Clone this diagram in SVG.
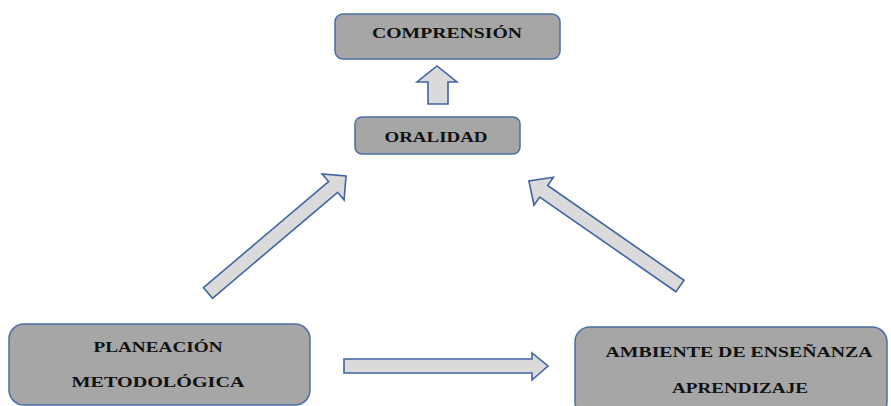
<svg xmlns="http://www.w3.org/2000/svg" width="891" height="406" viewBox="0 0 891 406">
<style>
.box{fill:#a6a6a6;stroke:#4a6fa5;stroke-width:1.5}
.arr{fill:#dadada;stroke:#3f65a3;stroke-width:1.6;stroke-linejoin:miter}
.t{font-family:"Liberation Serif","Times New Roman",serif;font-weight:bold;font-size:14px;fill:#111;text-anchor:middle}
</style>
<rect width="891" height="406" fill="#fff"/>
<g id="comprension">
<rect class="box" x="335" y="14" width="225" height="45" rx="8"/>
<text class="t" x="447" y="38" textLength="150" lengthAdjust="spacingAndGlyphs">COMPRENSIÓN</text>
</g>
<g id="oralidad">
<rect class="box" x="355" y="117" width="165" height="37" rx="7"/>
<text class="t" x="436" y="142" textLength="103" lengthAdjust="spacingAndGlyphs">ORALIDAD</text>
</g>
<g id="planeacion">
<rect class="box" x="9" y="324" width="301" height="81" rx="15"/>
<text class="t" x="158" y="352" textLength="129" lengthAdjust="spacingAndGlyphs">PLANEACIÓN</text>
<text class="t" x="158" y="387" textLength="173" lengthAdjust="spacingAndGlyphs">METODOLÓGICA</text>
</g>
<g id="ambiente">
<rect class="box" x="575" y="327" width="312" height="90" rx="15"/>
<text class="t" x="739" y="357" textLength="267" lengthAdjust="spacingAndGlyphs">AMBIENTE DE ENSEÑANZA</text>
<text class="t" x="740" y="393" textLength="136" lengthAdjust="spacingAndGlyphs">APRENDIZAJE</text>
</g>
<g id="connectors">
<polygon class="arr" points="428,104 428,82 417,82 437,66 457,82 448,82 448,104"/>
<polygon class="arr" transform="translate(208,293) rotate(-40.3)" points="0,-7 164,-7 164,-17 181,0 164,17 164,7 0,7"/>
<polygon class="arr" transform="translate(680,286) rotate(-145.2)" points="0,-7 166,-7 166,-17 184,0 166,17 166,7 0,7"/>
<polygon class="arr" points="344,359 532,359 532,353 548,366 532,380 532,373 344,373"/>
</g>
</svg>
